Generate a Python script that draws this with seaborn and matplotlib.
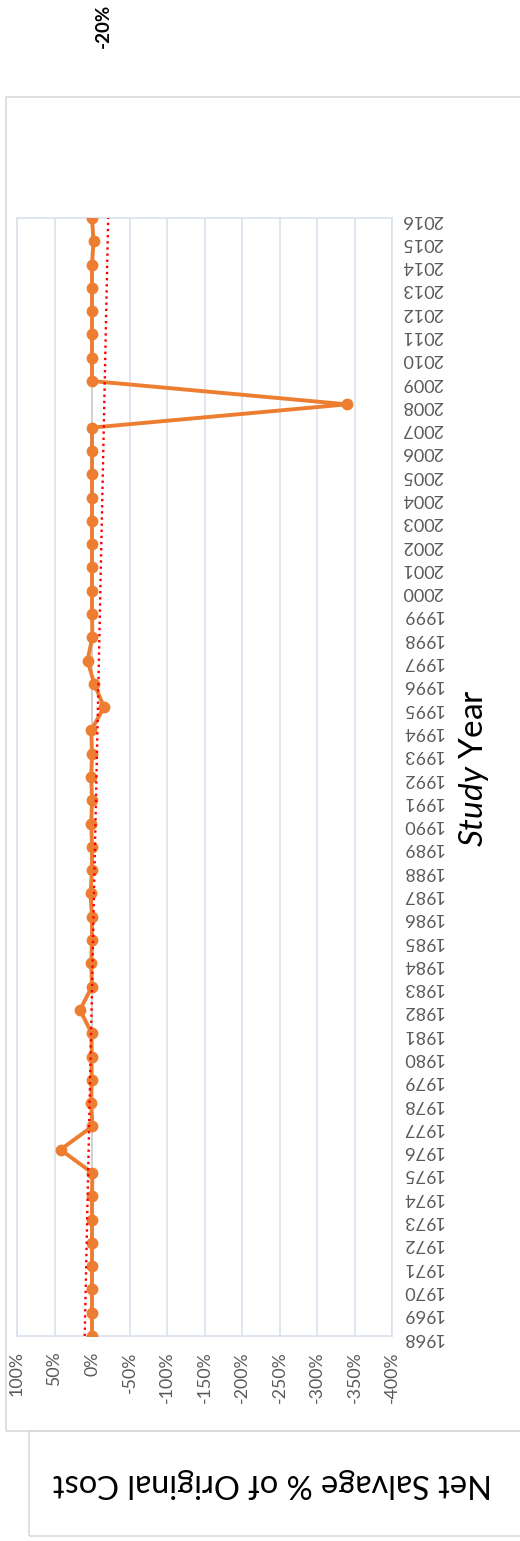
import numpy as np
import pandas as pd
import matplotlib
matplotlib.use("Agg")
import matplotlib.pyplot as plt
from matplotlib.patches import Rectangle
import seaborn as sns

# Study years and net salvage as % of original cost
years = list(range(1968, 2017))
net_salvage_pct = [
    0, 0, 0, 0, 0, 0, 0, -0.5, 42, -0.5,      # 1968-1977
    1, 0.5, 0.5, 0.5, 16, 0, 1, 0, 0, 2,      # 1978-1987
    0, 0, 1, 0, 1, 0, 1, -16, -3, 6,          # 1988-1997
    -0.5, 0, 0, 0, 0, 0, 0, 0, 0, 0,          # 1998-2007
    -340, 0, 0, 0, 0, 0, 0, -2, 0,            # 2008-2016
]
pct_ticks = [100, 50, 0, -50, -100, -150, -200, -250, -300, -350, -400]
pct_tick_labels = [f"{v}%" for v in pct_ticks]
average_label = "-20%"
value_title = "Net Salvage % of Original Cost"
year_title = r"$\it{Study}$ Year"

sns.set_style("white")
plt.rcParams["font.family"] = ["Lato", "DejaVu Sans"]
plt.rcParams["mathtext.fontset"] = "custom"
plt.rcParams["mathtext.rm"] = "Lato"
plt.rcParams["mathtext.it"] = "Lato:italic"

W, H = 520, 1541
fig = plt.figure(figsize=(W / 100, H / 100), dpi=100)

# outer chart frame and the lower title box
fig.patches.append(Rectangle((6 / W, 1 - 1431 / H), 1.2, (1431 - 97) / H,
                             transform=fig.transFigure, fill=False,
                             edgecolor="#D9D9D9", lw=1.2))
fig.patches.append(Rectangle((29 / W, 1 - 1536 / H), 1.2, (1536 - 1431) / H,
                             transform=fig.transFigure, fill=False,
                             edgecolor="#D9D9D9", lw=1.2))

ax = fig.add_axes([17 / W, 1 - 1336 / H, (392 - 17) / W, (1336 - 218) / H])

df = pd.DataFrame({"year": years, "pct": net_salvage_pct})

# linear trend of the series
coef = np.polyfit(df["year"], df["pct"], 1)
df["trend"] = np.polyval(coef, df["year"])

ax.axvline(0, color="#D0D0D0", lw=1.3, zorder=1)
sns.lineplot(data=df, x="pct", y="year", orient="y", ax=ax,
             color="#ED7D31", linewidth=2.8, marker="o", markersize=8.5,
             markeredgewidth=0, zorder=3)
sns.lineplot(data=df, x="trend", y="year", orient="y", ax=ax,
             color="#FF0000", linewidth=1.7, linestyle=(0, (1, 1.6)), zorder=4)

ax.set_xlim(100, -400)
ax.set_ylim(1968, 2016)
ax.set_xticks(pct_ticks)
ax.set_xticklabels(pct_tick_labels, rotation=90, color="#595959", fontsize=12.8)
ax.set_yticks(years)
ax.yaxis.tick_right()
ax.set_yticklabels([str(y) for y in years], rotation=180, color="#595959",
                   fontsize=13)
ax.tick_params(axis="both", length=0)
ax.tick_params(axis="x", pad=11)
ax.tick_params(axis="y", pad=7)
ax.set_xlabel("")
ax.set_ylabel("")
ax.grid(axis="x", color="#D9E1EC", lw=1.2)
ax.grid(axis="y", visible=False)
for s in ax.spines.values():
    s.set_color("#D9E1EC")
    s.set_linewidth(1.2)

fig.text(474 / W, 1 - 768 / H, year_title, rotation=90, ha="center",
         va="center", fontsize=24, color="black")
fig.text(272 / W, 1 - 1483 / H, value_title, rotation=180, ha="center",
         va="center", fontsize=23.5, color="black")
fig.text(103 / W, 1 - 26 / H, average_label, rotation=90, ha="center",
         va="center", fontsize=13.5, fontweight="bold", color="black")

fig.savefig("out.png", dpi=100)
